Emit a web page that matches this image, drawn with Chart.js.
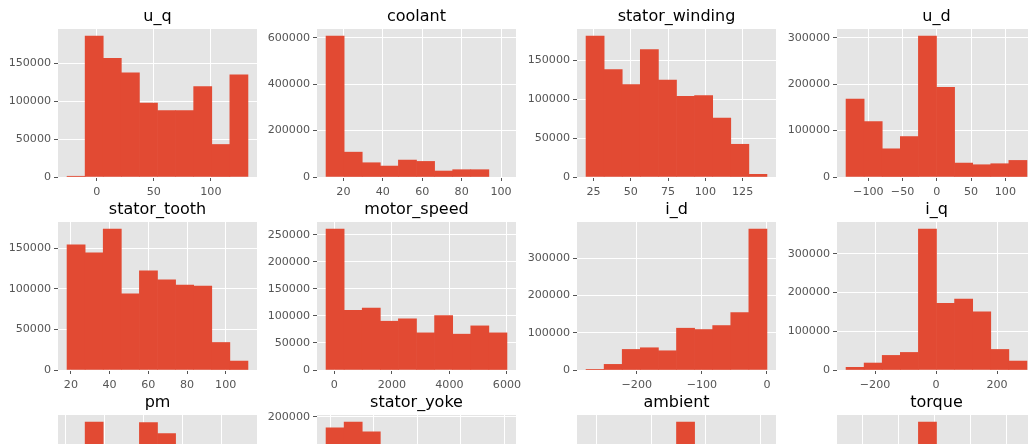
<!DOCTYPE html>
<html>
<head>
<meta charset="utf-8">
<title>histograms</title>
<script src="https://cdn.jsdelivr.net/npm/chart.js@4.4.1/dist/chart.umd.min.js"></script>
<style>
    html, body { margin: 0; padding: 0; width: 1028px; height: 444px; overflow: hidden; background: #fff; }
    canvas { position: absolute; }
</style>
</head>
<body>
<script>
// panel titles, in grid order
const panelTitles = ['u_q', 'coolant', 'stator_winding', 'u_d',
                     'stator_tooth', 'motor_speed', 'i_d', 'i_q',
                     'pm', 'stator_yoke', 'ambient', 'torque'];

// value range [min, max] of each column (10 equal bins between them)
const uqRange = [-26, 132.5];
const coolantRange = [11.2, 103];
const statorWindingRange = [20, 141.3];
const udRange = [-132.5, 131.5];
const statorToothRange = [18, 111.5];
const motorSpeedRange = [-290, 6000];
const idRange = [-278, 0];
const iqRange = [-295, 298];
const pmRange = [20.9, 113.6];
const statorYokeRange = [18.1, 101.2];
const ambientRange = [9.06, 25.56];
const torqueRange = [-247, 255.5];

// bin counts
const uqCounts = [1000, 186400, 157000, 137700, 97800, 87700, 87700, 119700, 43000, 135100];
const coolantCounts = [607000, 107000, 61400, 47100, 72900, 67100, 25700, 31400, 31400, 0];
const statorWindingCounts = [181000, 138000, 118700, 163700, 124300, 103700, 104500, 75800, 42000, 3400];
const udCounts = [167900, 119300, 60700, 87100, 303600, 192900, 30000, 26400, 28600, 35700];
const statorToothCounts = [154100, 144300, 173700, 94000, 122200, 111200, 104700, 103400, 33900, 11000];
const motorSpeedCounts = [260400, 110300, 114600, 90100, 94400, 68600, 100500, 66200, 81500, 68600];
const idCounts = [700, 15100, 55200, 59700, 51600, 112200, 108600, 119300, 154000, 378400];
const iqCounts = [6900, 18000, 37700, 45400, 364200, 172200, 183400, 150000, 53100, 23100];
const pmCounts = [60000, 186000, 140000, 120000, 185200, 170700, 110000, 50000, 25000, 5000];
const statorYokeCounts = [185000, 193000, 179500, 140000, 110000, 100000, 80000, 40000, 20000, 5000];
const ambientCounts = [3000, 8000, 20000, 60000, 150000, 372000, 280000, 120000, 30000, 9000];
const torqueCounts = [5000, 15000, 35000, 50000, 380000, 180000, 190000, 140000, 45000, 12000];

// tick values
const uqXTicks = [0, 50, 100];
const coolantXTicks = [20, 40, 60, 80, 100];
const statorWindingXTicks = [25, 50, 75, 100, 125];
const udXTicks = [-100, -50, 0, 50, 100];
const statorToothXTicks = [20, 40, 60, 80, 100];
const motorSpeedXTicks = [0, 2000, 4000, 6000];
const idXTicks = [-200, -100, 0];
const iqXTicks = [-200, 0, 200];
const pmXTicks = [20, 40, 60, 80, 100];
const statorYokeXTicks = [20, 40, 60, 80, 100];
const ambientXTicks = [10, 15, 20, 25];
const torqueXTicks = [-200, -100, 0, 100, 200];

const yTicks50k = [0, 50000, 100000, 150000];
const yTicks100k = [0, 100000, 200000, 300000];
const coolantYTicks = [0, 200000, 400000, 600000];
const motorSpeedYTicks = [0, 50000, 100000, 150000, 200000, 250000];
const statorYokeYTicks = [0, 50000, 100000, 150000, 200000];

const panelRanges = [uqRange, coolantRange, statorWindingRange, udRange,
                     statorToothRange, motorSpeedRange, idRange, iqRange,
                     pmRange, statorYokeRange, ambientRange, torqueRange];
const panelCounts = [uqCounts, coolantCounts, statorWindingCounts, udCounts,
                     statorToothCounts, motorSpeedCounts, idCounts, iqCounts,
                     pmCounts, statorYokeCounts, ambientCounts, torqueCounts];
const panelXTicks = [uqXTicks, coolantXTicks, statorWindingXTicks, udXTicks,
                     statorToothXTicks, motorSpeedXTicks, idXTicks, iqXTicks,
                     pmXTicks, statorYokeXTicks, ambientXTicks, torqueXTicks];
const panelYTicks = [yTicks50k, coolantYTicks, yTicks50k, yTicks100k,
                     yTicks50k, motorSpeedYTicks, yTicks100k, yTicks100k,
                     yTicks50k, statorYokeYTicks, yTicks100k, yTicks100k];

// layout of the grid (plot area positions)
const colLeft = [58, 317, 577, 837];
const rowTop = [29, 222, 415];
const PLOT_W = 199, PLOT_H = 148;
const AXIS_W = 60, AXIS_H = 30, TITLE_H = 20, PAD_R = 25;

const FONT = 'DejaVu Sans';
const TICK_COLOR = '#555555';

// grey plot background (ggplot look)
const plotBackground = {
    id: 'plotBackground',
    beforeDraw(chart) {
        const { ctx, chartArea } = chart;
        ctx.save();
        ctx.fillStyle = '#E5E5E5';
        ctx.fillRect(chartArea.left, chartArea.top, chartArea.width, chartArea.height);
        ctx.restore();
    }
};

function fmtTick(v) {
    return v < 0 ? '\u2212' + Math.abs(v) : String(v);
}

function drawHistogram(i) {
    const col = i % 4;
    const row = Math.floor(i / 4);
    const [lo, hi] = panelRanges[i];
    const counts = panelCounts[i];
    const n = counts.length;
    const binW = (hi - lo) / n;
    const margin = (hi - lo) * 0.05;

    const points = counts.map((c, k) => ({ x: lo + binW * (k + 0.5), y: c }));

    const canvas = document.createElement('canvas');
    canvas.width = AXIS_W + PLOT_W + PAD_R;
    canvas.height = TITLE_H + PLOT_H + AXIS_H;
    canvas.style.width = canvas.width + 'px';
    canvas.style.height = canvas.height + 'px';
    canvas.style.left = (colLeft[col] - AXIS_W) + 'px';
    canvas.style.top = (rowTop[row] - TITLE_H) + 'px';
    document.body.appendChild(canvas);

    const xt = panelXTicks[i];
    const yt = panelYTicks[i];

    new Chart(canvas, {
        type: 'bar',
        data: {
            datasets: [{
                data: points,
                backgroundColor: '#E24A33',
                borderWidth: 0,
                barPercentage: 1,
                categoryPercentage: 1,
                // empty bins draw nothing
                inflateAmount: ctx => (ctx.raw && ctx.raw.y > 0) ? 0.33 : 0
            }]
        },
        options: {
            responsive: false,
            animation: false,
            events: [],
            devicePixelRatio: 1,
            layout: { padding: { top: 0, left: 0, right: PAD_R, bottom: 0 } },
            plugins: {
                legend: { display: false },
                tooltip: { enabled: false },
                title: {
                    display: true,
                    text: panelTitles[i],
                    fullSize: false,
                    color: '#000',
                    font: { family: FONT, size: 16, weight: 'normal', lineHeight: 1 },
                    padding: { top: 0, bottom: 4 }
                }
            },
            scales: {
                x: {
                    type: 'linear',
                    min: lo - margin,
                    max: hi + margin,
                    offset: false,
                    afterBuildTicks: s => { s.ticks = xt.map(v => ({ value: v })); },
                    afterFit: s => { s.height = AXIS_H; },
                    border: { display: false },
                    grid: { color: '#ffffff', lineWidth: 1, tickColor: TICK_COLOR, tickLength: 4, offset: false },
                    ticks: {
                        color: TICK_COLOR,
                        font: { family: FONT, size: 11.1 },
                        padding: 4.5,
                        maxRotation: 0,
                        autoSkip: false,
                        callback: v => fmtTick(v)
                    }
                },
                y: {
                    min: 0,
                    max: Math.max(...counts) * 1.05,
                    afterBuildTicks: s => { s.ticks = yt.map(v => ({ value: v })); },
                    afterFit: s => { s.width = AXIS_W; },
                    border: { display: false },
                    grid: { color: '#ffffff', lineWidth: 1, tickColor: TICK_COLOR, tickLength: 4 },
                    ticks: {
                        color: TICK_COLOR,
                        font: { family: FONT, size: 11.1 },
                        padding: 3,
                        autoSkip: false,
                        callback: v => String(v)
                    }
                }
            }
        },
        plugins: [plotBackground]
    });
}

for (let i = 0; i < panelTitles.length; i++) {
    drawHistogram(i);
}
</script>
</body>
</html>
